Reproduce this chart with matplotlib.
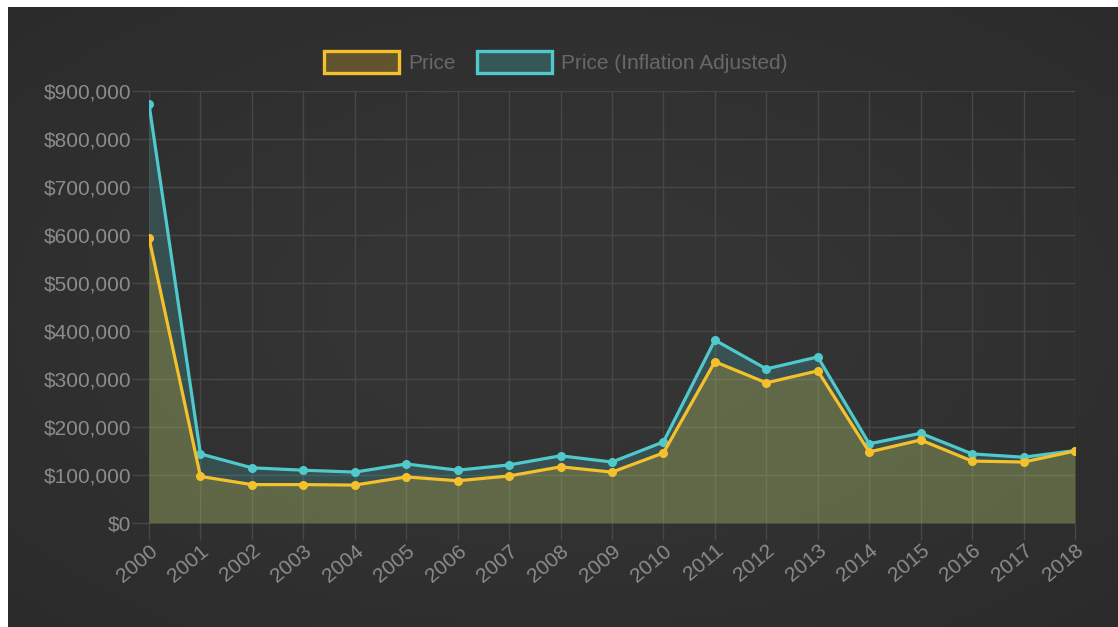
import numpy as np
import matplotlib
matplotlib.use("Agg")
import matplotlib.pyplot as plt
from matplotlib.patches import Patch
from matplotlib.ticker import FuncFormatter, MultipleLocator

# data
years = [str(y) for y in range(2000, 2019)]
price = [594000, 97000, 80000, 80000, 79000, 96000, 88000, 98000, 117000, 106000,
         146000, 336000, 292000, 317000, 148000, 173000, 129000, 127000, 150000]
price_adj = [873000, 144000, 115000, 110000, 106000, 123000, 110000, 121000, 140000, 127000,
             169000, 381000, 321000, 346000, 165000, 187000, 144000, 137000, 151000]

YELLOW = "#f4c12c"
CYAN = "#4fc9cb"
TICK = "#8c8c8c"
GRID = "#474747"

plt.rcParams['font.family'] = ['Liberation Sans', 'DejaVu Sans']

fig = plt.figure(figsize=(11.18, 6.27), dpi=100)
fig.patch.set_facecolor("white")

# dark panel with soft vignette, white strip top/left like the screenshot
bg = fig.add_axes([8 / 1118, 0, 1 - 8 / 1118, 1 - 7 / 627])
yy, xx = np.mgrid[-1:1:200j, -1:1:400j]
r = np.sqrt(xx ** 2 + yy ** 2)
shade = 0.205 - 0.035 * np.clip(r - 0.4, 0, None)
bg.imshow(np.dstack([shade] * 3), aspect="auto", extent=[0, 1, 0, 1])
bg.set_axis_off()

ax = fig.add_axes([149 / 1118, 1 - 523 / 627, (1075 - 149) / 1118, (523 - 91) / 627])
ax.set_facecolor("none")
x = np.arange(len(years))

ax.fill_between(x, price_adj, 0, color=CYAN, alpha=0.2, linewidth=0, zorder=2)
ax.plot(x, price_adj, color=CYAN, lw=2.3, marker="o", ms=5.5, zorder=3)
ax.fill_between(x, price, 0, color=YELLOW, alpha=0.22, linewidth=0, zorder=4)
ax.plot(x, price, color=YELLOW, lw=2.3, marker="o", ms=5.5, zorder=5)

ax.set_xlim(0, len(years) - 1)
ax.set_ylim(0, 900000)
ax.yaxis.set_major_locator(MultipleLocator(100000))
ax.yaxis.set_major_formatter(FuncFormatter(lambda v, p: "${:,.0f}".format(v)))
ax.set_xticks(x)
ax.set_xticklabels(years, rotation=40, ha="right", va="top", rotation_mode="anchor")

ax.grid(True, color=GRID, lw=1, zorder=1)
ax.set_axisbelow(True)
for s in ax.spines.values():
    s.set_visible(False)
ax.tick_params(axis="both", colors=GRID, labelcolor=TICK, labelsize=15, length=12, width=1)
ax.tick_params(axis="y", pad=1)
ax.tick_params(axis="x", pad=1)

handles = [Patch(facecolor=(0.96, 0.76, 0.17, 0.25), edgecolor=YELLOW, lw=2.4, label="Price"),
           Patch(facecolor=(0.31, 0.79, 0.8, 0.25), edgecolor=CYAN, lw=2.4, label="Price (Inflation Adjusted)")]
leg = fig.legend(handles=handles, loc="center", bbox_to_anchor=(556 / 1118, 1 - 62 / 627), ncol=2,
                 frameon=False, fontsize=15, handlelength=3.6, handleheight=1.2,
                 handletextpad=0.45, columnspacing=1.0)
for t in leg.get_texts():
    t.set_color("#686868")

fig.savefig("out.png", dpi=100, facecolor=fig.get_facecolor())
